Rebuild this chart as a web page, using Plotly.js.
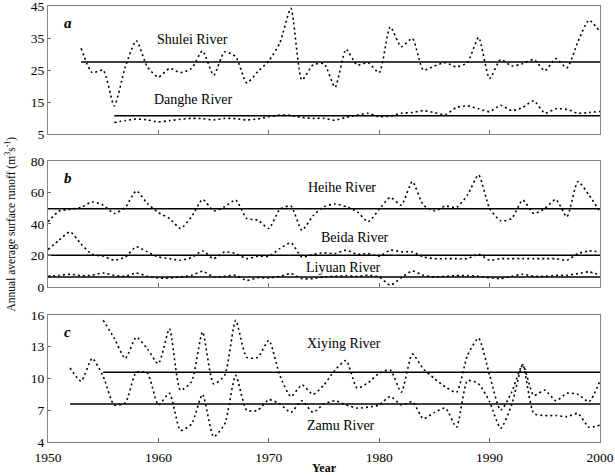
<!DOCTYPE html>
<html><head><meta charset="utf-8">
<script src="https://cdn.plot.ly/plotly-3.0.1.min.js"></script>
<style>html,body{margin:0;padding:0;background:#fff}#chart{width:615px;height:475px}</style>
</head><body><div id="chart"></div>
<script>
// ---- data ----
const shuleiYears = [1953,1954,1955,1956,1957,1958,1959,1960,1961,1962,1963,1964,1965,1966,1967,1968,1969,1970,1971,1972,1973,1974,1975,1976,1977,1978,1979,1980,1981,1982,1983,1984,1985,1986,1987,1988,1989,1990,1991,1992,1993,1994,1995,1996,1997,1998,1999,2000];
const shuleiVals = [31.8,24.2,25,13.8,26,34.2,26,22.8,25.5,24.2,25.5,31,23.4,30.7,29.2,21,24.5,27.9,33.5,44.3,21.9,26.6,27,19.6,31.5,26.6,27.3,24.2,38.5,32.3,34.9,25,26.3,27.3,26,27.4,35.2,22.4,28.3,26.3,27,28.3,24.8,28.6,25.7,33.9,40.6,37];
const shuleiMean = 27.5;
const dangheYears = [1956,1957,1958,1959,1960,1961,1962,1963,1964,1965,1966,1967,1968,1969,1970,1971,1972,1973,1974,1975,1976,1977,1978,1979,1980,1981,1982,1983,1984,1985,1986,1987,1988,1989,1990,1991,1992,1993,1994,1995,1996,1997,1998,1999,2000];
const dangheVals = [8.6,9.2,9.7,9.4,8.8,9.2,9.6,9.9,9.8,9.4,9.9,9.8,9.4,9.7,10.4,10.9,10.8,10.2,9.9,9.9,9.3,10.2,10.9,11.5,10.4,10.6,11.5,11.7,12.3,11.7,11.1,13.3,13.8,12.9,12,14,12.3,13.3,15.4,11.5,12.9,12.7,11.5,11.7,12.1];
const dangheMean = 10.7;

const yearsB = [1950,1951,1952,1953,1954,1955,1956,1957,1958,1959,1960,1961,1962,1963,1964,1965,1966,1967,1968,1969,1970,1971,1972,1973,1974,1975,1976,1977,1978,1979,1980,1981,1982,1983,1984,1985,1986,1987,1988,1989,1990,1991,1992,1993,1994,1995,1996,1997,1998,1999,2000];
const heiheVals = [41.4,48.2,49.3,50.5,54,52,46.7,50.5,61,53,47.3,43.5,37.2,44.6,55.6,48.4,51,55.2,43.5,42.5,37.2,49.3,51.4,36,45.2,51,52.7,51,47.8,41.4,49.3,56.9,52,66.9,52,48.4,51.4,50.5,58.4,71.1,49.9,42,43.5,55.2,46.7,49.9,55.6,44.6,66.9,58.4,47.8];
const heiheMean = 49.7;
const beidaVals = [23.8,29.7,35,27.2,20.8,19.5,17,19,25.5,22.3,19.1,18,17,18.7,22.9,18,22.3,21.2,18,19.5,19.5,24.4,28,19.1,20.7,21.7,21.2,23.4,20.8,21.2,19.5,23.4,22.3,22.3,19.1,18,18,18,18,20.8,17,18,18,18,18,18,18,17,21.2,22.9,22.3];
const beidaMean = 20.2;
const liyuanVals = [6.8,7.4,8.1,7.2,7.4,8.9,7.4,6.8,8.9,6.8,5.7,5.7,6.4,7.4,10,6.4,6.8,7.4,4.2,5.9,5.7,6.8,8.5,5.3,5.3,6.4,6.8,7.2,6.8,7.4,6.4,1.1,5.9,10.2,7.4,6.4,6.8,7.2,7.2,6.8,5.9,5.3,6.8,8.1,6.8,6.8,7.4,7.4,8.5,9.6,7.4];
const liyuanMean = 6.4;

const xiyingYears = [1955,1956,1957,1958,1959,1960,1961,1962,1963,1964,1965,1966,1967,1968,1969,1970,1971,1972,1973,1974,1975,1976,1977,1978,1979,1980,1981,1982,1983,1984,1985,1986,1987,1988,1989,1990,1991,1992,1993,1994,1995,1996,1997,1998,1999,2000];
const xiyingVals = [15.5,13.8,11.9,13.9,12.8,11.4,14.7,8.9,9.7,14.4,9.5,10.3,15.5,12,12,13.6,10.3,8.3,9.4,8.5,9.4,10.8,11.7,9.1,9.6,10.5,10.8,8.7,12.3,10.9,10,9.2,8.7,12.2,13.8,10.3,7,8.7,11.3,8.4,8.9,7.9,8.6,8.5,7.8,9.8];
const xiyingMean = 10.6;
const zamuYears = [1952,1953,1954,1955,1956,1957,1958,1959,1960,1961,1962,1963,1964,1965,1966,1967,1968,1969,1970,1971,1972,1973,1974,1975,1976,1977,1978,1979,1980,1981,1982,1983,1984,1985,1986,1987,1988,1989,1990,1991,1992,1993,1994,1995,1996,1997,1998,1999,2000];
const zamuVals = [11,9.75,11.9,10.2,7.5,7.7,10.6,10.5,7.5,8.6,5.1,5.7,8.5,4.5,5.7,10.3,7,7,8,7.6,6.8,7.9,6.8,7.6,7.9,7.5,7.2,7.3,7.5,8.3,7.5,7.8,6.2,6.8,7.2,5.4,9.8,9.5,7.8,5.3,7.5,11.3,6.7,6.5,6.5,6.4,6.7,5.4,5.6];
const zamuMean = 7.6;

const xTicks = [1950,1960,1970,1980,1990,2000];
const yTicksA = [5,15,25,35,45];
const yTicksB = [0,20,40,60,80];
const yTicksC = [4,7,10,13,16];

// ---- traces ----
const dotLine = {color:'#000', width:1.6, dash:'2px,3px', shape:'spline', smoothing:0.6};
const meanLine = {color:'#000', width:1.5};
function series(x, y, xa, ya) {
  return {x:x, y:y, xaxis:xa, yaxis:ya, mode:'lines', line:dotLine, hoverinfo:'skip', showlegend:false, cliponaxis:false};
}
function mean(x, m, xa, ya) {
  const x0 = x[0], x1 = x[x.length-1];
  return {x:[x0, x1], y:[m, m], xaxis:xa, yaxis:ya, mode:'lines', line:meanLine, hoverinfo:'skip', showlegend:false};
}
const data = [
  series(shuleiYears, shuleiVals, 'x2', 'y'), mean(shuleiYears, shuleiMean, 'x2', 'y'),
  series(dangheYears, dangheVals, 'x2', 'y'), mean(dangheYears, dangheMean, 'x2', 'y'),
  series(yearsB, heiheVals, 'x3', 'y2'), mean(yearsB, heiheMean, 'x3', 'y2'),
  series(yearsB, beidaVals, 'x3', 'y2'), mean(yearsB, beidaMean, 'x3', 'y2'),
  series(yearsB, liyuanVals, 'x3', 'y2'), mean(yearsB, liyuanMean, 'x3', 'y2'),
  series(xiyingYears, xiyingVals, 'x', 'y3'), mean(xiyingYears, xiyingMean, 'x', 'y3'),
  series(zamuYears, zamuVals, 'x', 'y3'), mean(zamuYears, zamuMean, 'x', 'y3')
];

const F = 'Liberation Serif, Times New Roman, serif';
function xax(anchor, labels) {
  return {anchor:anchor, range:[1950,2000], tickvals:xTicks, ticktext:xTicks.map(String),
    showticklabels:labels, ticks:'inside', ticklen:4, tickcolor:'#666', showgrid:false, zeroline:false,
    showline:true, linecolor:'#888', linewidth:1, mirror:true, ticklabelstandoff:3,
    tickfont:{family:F, size:13.5, color:'#000'}};
}
function yax(anchor, dom, rng, tv) {
  return {anchor:anchor, domain:dom, range:rng, tickvals:tv, ticktext:tv.map(String), ticks:'inside', ticklen:3, tickcolor:'#666',
    showgrid:false, zeroline:false, ticklabeloverflow:'allow',
    showline:true, linecolor:'#888', linewidth:1, mirror:true, tickfont:{family:F, size:13.5, color:'#000'}};
}
const ann = (xr, yr, xv, yv, t, extra) => Object.assign({xref:xr, yref:yr, x:xv, y:yv, text:t, showarrow:false,
  font:{family:F, size:14, color:'#000'}}, extra||{});
const layout = {
  width:615, height:475, margin:{l:48, r:15, t:6, b:33},
  paper_bgcolor:'#fff', plot_bgcolor:'#fff', showlegend:false,
  xaxis: Object.assign(xax('y3', true), {title:{text:'<b>Year</b>', font:{family:F, size:12, color:'#000'}, standoff:1}}),
  xaxis2: xax('y', false),
  xaxis3: xax('y2', false),
  yaxis: yax('x2', [0.7064,1], [5,45.05], yTicksA),
  yaxis2: yax('x3', [0.3555,0.6445], [0,80], yTicksB),
  yaxis3: yax('x', [0,0.2913], [4,16], yTicksC),
  annotations: [
    ann('paper','paper', 0.026, 0.985, '<b><i>a</i></b>', {xanchor:'left', yanchor:'top', font:{family:F, size:15, color:'#000'}}),
    ann('paper','paper', 0.026, 0.628, '<b><i>b</i></b>', {xanchor:'left', yanchor:'top', font:{family:F, size:15, color:'#000'}}),
    ann('paper','paper', 0.026, 0.275, '<b><i>c</i></b>', {xanchor:'left', yanchor:'top', font:{family:F, size:15, color:'#000'}}),
    ann('x2','y', 1963.1, 34.5, 'Shulei River'),
    ann('x2','y', 1963.1, 15.8, 'Danghe River'),
    ann('x3','y2', 1976.6, 63, 'Heihe River'),
    ann('x3','y2', 1977.8, 31.5, 'Beida River'),
    ann('x3','y2', 1976.8, 12.5, 'Liyuan River'),
    ann('x','y3', 1976.8, 13.3, 'Xiying River'),
    ann('x','y3', 1976.5, 5.6, 'Zamu River'),
    ann('paper','paper', -0.068, 0.5, 'Annual average surface runoff (m<sup>3</sup>s<sup>-1</sup>)',
      {textangle:-90, xanchor:'center', yanchor:'middle', font:{family:F, size:11.5, color:'#000'}})
  ]
};
Plotly.newPlot('chart', data, layout, {displayModeBar:false, staticPlot:true});
</script></body></html>
